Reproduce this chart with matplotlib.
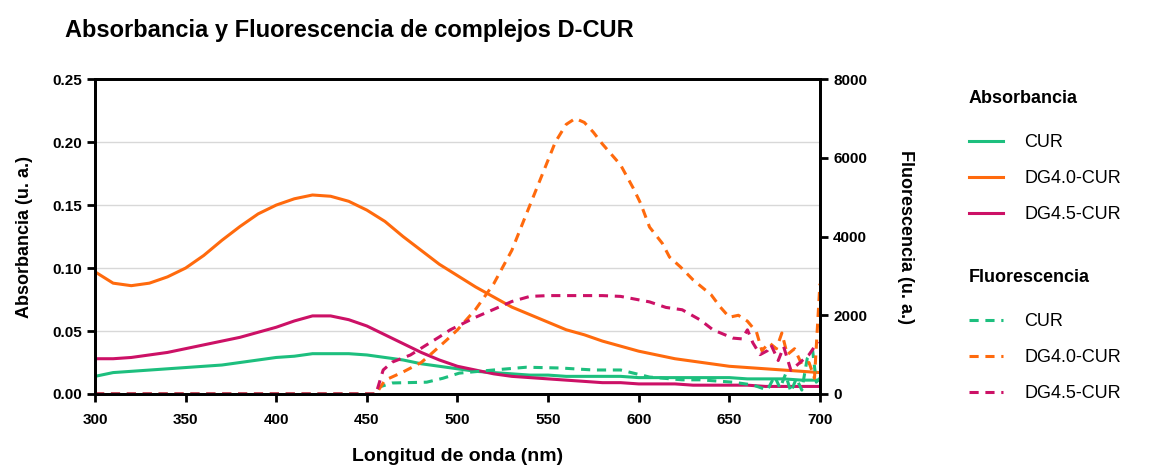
import matplotlib
matplotlib.use("Agg")
import matplotlib.pyplot as plt

plt.rcParams.update({'font.family': 'Liberation Sans'})

# Absorbancia (u. a.) - cada 10 nm
abs_x = list(range(300, 701, 10))
abs_cur = [0.014, 0.017, 0.018, 0.019, 0.020, 0.021, 0.022, 0.023, 0.025, 0.027, 0.029,
           0.030, 0.032, 0.032, 0.032, 0.031, 0.029, 0.027, 0.024, 0.022, 0.020, 0.018,
           0.017, 0.016, 0.015, 0.015, 0.014, 0.014, 0.014, 0.014, 0.013, 0.013, 0.013,
           0.013, 0.013, 0.013, 0.012, 0.012, 0.012, 0.011, 0.011]
abs_dg40 = [0.097, 0.088, 0.086, 0.088, 0.093, 0.100, 0.110, 0.122, 0.133, 0.143, 0.150,
            0.155, 0.158, 0.157, 0.153, 0.146, 0.137, 0.125, 0.114, 0.103, 0.094, 0.085,
            0.077, 0.069, 0.063, 0.057, 0.051, 0.047, 0.042, 0.038, 0.034, 0.031, 0.028,
            0.026, 0.024, 0.022, 0.021, 0.020, 0.019, 0.018, 0.017]
abs_dg45 = [0.028, 0.028, 0.029, 0.031, 0.033, 0.036, 0.039, 0.042, 0.045, 0.049, 0.053,
            0.058, 0.062, 0.062, 0.059, 0.054, 0.047, 0.040, 0.033, 0.027, 0.022, 0.019,
            0.016, 0.014, 0.013, 0.012, 0.011, 0.010, 0.009, 0.009, 0.008, 0.008, 0.008,
            0.007, 0.007, 0.007, 0.007, 0.006, 0.006, 0.006, 0.006]

# Fluorescencia (u. a.)
flc_x = [300, 455, 457, 464, 483, 492, 501, 520, 538, 557, 575, 590, 606, 624, 634, 652,
         663, 671, 675, 678, 681, 684, 687, 690, 693, 696, 698, 700]
fl_cur = [0, 0, 180, 280, 300, 400, 530, 610, 680, 660, 610, 610, 430, 360, 360, 300,
          230, 100, 450, 150, 500, 50, 400, 100, 900, 1100, 300, 400]

flo_x = [300, 455, 460, 470, 480, 486, 494, 500, 510, 520, 530, 540, 547, 554, 560, 565,
         570, 575, 580, 590, 597, 601, 606, 613, 617, 623, 630, 640, 645, 650, 655, 660,
         665, 668, 672, 676, 679, 682, 686, 690, 694, 697, 700]
fl_dg40 = [0, 0, 350, 560, 800, 1040, 1370, 1630, 2150, 2800, 3650, 4800, 5600, 6400, 6850,
           7000, 6900, 6650, 6350, 5820, 5230, 4850, 4240, 3830, 3480, 3230, 2900, 2520,
           2210, 1950, 2000, 1850, 1575, 1100, 1300, 1150, 1550, 1000, 1150, 750, 800, 400,
           2800]

flm_x = [300, 455, 459, 464, 474, 483, 490, 496, 510, 520, 530, 540, 550, 560, 580, 590,
         606, 615, 624, 634, 641, 652, 657, 660, 663, 667, 671, 673, 677, 680, 684, 689,
         694, 697, 700]
fl_dg45 = [0, 0, 610, 810, 990, 1250, 1450, 1630, 1950, 2150, 2350, 2480, 2500, 2500, 2500,
           2480, 2340, 2200, 2140, 1880, 1630, 1420, 1400, 1630, 1300, 1000, 1100, 1250,
           850, 1200, 600, 800, 1000, 1200, 1300]

labels = ['CUR', 'DG4.0-CUR', 'DG4.5-CUR']
colors = ['#1DBF7E', '#FF6A0D', '#CC1166']

fig = plt.figure(figsize=(11.63, 4.71), dpi=100)
ax = fig.add_axes([0.0817, 0.1635, 0.6233, 0.6685])
ax2 = ax.twinx()

abs_lines = []
for y, c, lab in zip([abs_cur, abs_dg40, abs_dg45], colors, labels):
    l, = ax.plot(abs_x, y, color=c, lw=2.2, label=lab)
    abs_lines.append(l)

fl_lines = []
for x, y, c, lab in zip([flc_x, flo_x, flm_x], [fl_cur, fl_dg40, fl_dg45], colors, labels):
    l, = ax2.plot(x, y, color=c, lw=2.2, ls=(0, (3, 2.2)), label=lab)
    fl_lines.append(l)

ax.set_xlim(300, 700)
ax.set_ylim(0, 0.25)
ax2.set_ylim(0, 8000)
ax.set_xticks(range(300, 701, 50))
ax.set_yticks([0, 0.05, 0.10, 0.15, 0.20, 0.25])
ax.set_yticklabels(['0.00', '0.05', '0.10', '0.15', '0.20', '0.25'])
ax2.set_yticks([0, 2000, 4000, 6000, 8000])
ax.grid(axis='y', color='#d8d8d8', lw=1)
ax.set_axisbelow(True)

for a in (ax, ax2):
    for s in a.spines.values():
        s.set_linewidth(2)
    a.tick_params(width=2, length=6, labelsize=11)
    for t in a.get_xticklabels() + a.get_yticklabels():
        t.set_fontweight('bold')
ax.tick_params(axis='x', pad=8)

ax.set_xlabel('Longitud de onda (nm)', fontsize=14, fontweight='bold', labelpad=15)
ax.set_ylabel('Absorbancia (u. a.)', fontsize=13, fontweight='bold', labelpad=14)
ax2.set_ylabel('Fluorescencia (u. a.)', fontsize=13, fontweight='bold',
               rotation=270, labelpad=34)
fig.text(0.056, 0.935, 'Absorbancia y Fluorescencia de complejos D-CUR',
         fontsize=17, fontweight='bold', va='center')

# dos leyendas: absorbancia (continua) y fluorescencia (discontinua)
for handles, title, top in [(abs_lines, 'Absorbancia', 0.835), (fl_lines, 'Fluorescencia', 0.455)]:
    leg = fig.legend(handles=handles, title=title, loc='upper left',
                     bbox_to_anchor=(0.822, top), frameon=False, fontsize=13,
                     title_fontproperties={'weight': 'bold', 'size': 13},
                     handlelength=1.9, labelspacing=1.05, handletextpad=1.2,
                     borderpad=0.2)
    leg._legend_box.align = 'left'
    leg._legend_box.sep = 19.5

fig.savefig('out.png', dpi=100)
